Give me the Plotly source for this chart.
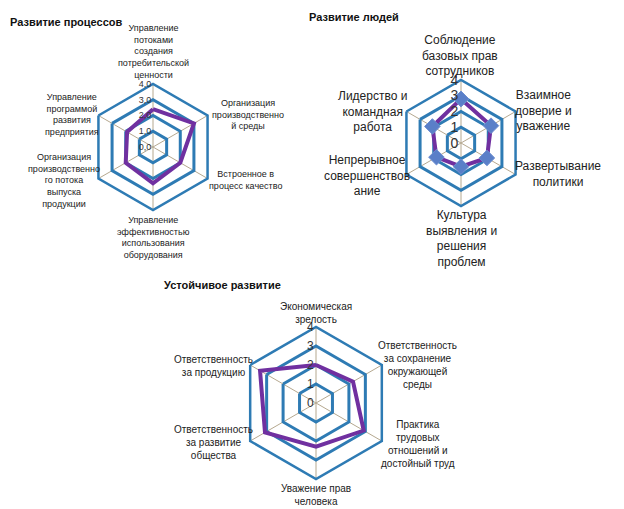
import plotly.graph_objects as go

W, H = 624, 509

proc_cats = ["Управление<br>потоками<br>создания<br>потребительской<br>ценности",
             "Организация<br>производственно<br>й среды",
             "Встроенное в<br>процесс качество",
             "Управление<br>эффективностью<br>использования<br>оборудования",
             "Организация<br>производственно<br>го потока<br>выпуска<br>продукции",
             "Управление<br>программой<br>развития<br>предприятия"]
proc_vals = [2.4, 3.0, 2.0, 2.3, 2.0, 1.9]

people_cats = ["Соблюдение<br>базовых прав<br>сотрудников",
               "Взаимное<br>доверие и<br>уважение",
               "Развертывание<br>политики",
               "Культура<br>выявления и<br>решения<br>проблем",
               "Непрерывное<br>совершенствов<br>ание",
               "Лидерство и<br>командная<br>работа"]
people_vals = [2.8, 2.2, 1.9, 1.5, 1.8, 2.1]

sust_cats = ["Экономическая<br>зрелость",
             "Ответственность<br>за сохранение<br>окружающей<br>среды",
             "Практика<br>трудовых<br>отношений и<br>достойный труд",
             "Уважение прав<br>человека",
             "Ответственность<br>за развитие<br>общества",
             "Ответственность<br>за продукцию"]
sust_vals = [2.0, 2.25, 2.9, 2.3, 3.1, 3.4]

titles = ["Развитие процессов", "Развитие людей", "Устойчивое развитие"]

BLUE = "#2E7BB4"
SPOKE = "#B5A88F"
PURPLE = "#7030A0"
FONT = "Liberation Sans, Arial, sans-serif"

fig = go.Figure()

def closed(a):
    return list(a) + [a[0]]

fig.add_trace(go.Scatterpolar(r=closed(proc_vals), theta=closed(proc_cats), mode="lines",
                              line=dict(color=PURPLE, width=4), subplot="polar", showlegend=False))
fig.add_trace(go.Scatterpolar(r=closed(people_vals), theta=closed(people_cats), mode="lines+markers",
                              line=dict(color=PURPLE, width=4),
                              marker=dict(symbol="diamond", size=12, color="#5A7FC8",
                                          line=dict(color="#6E8FD0", width=1)),
                              subplot="polar2", showlegend=False))
fig.add_trace(go.Scatterpolar(r=closed(sust_vals), theta=closed(sust_cats), mode="lines",
                              line=dict(color=PURPLE, width=4), subplot="polar3", showlegend=False))

def dom(cx, cy, r):
    return dict(x=[(cx - r) / W, (cx + r) / W], y=[(H - cy - r) / H, (H - cy + r) / H])

def polar(cx, cy, r, cats, tickfmt, tfs):
    return dict(
        domain=dom(cx, cy, r),
        bgcolor="white",
        gridshape="linear",
        radialaxis=dict(range=[0, 4], dtick=1, tick0=0, showline=False, ticks="",
                        gridcolor=BLUE, gridwidth=2.5, angle=90, side="counterclockwise",
                        tickangle=90,
                        tickformat=tickfmt, tickfont=dict(size=tfs, color="#333", family=FONT)),
        angularaxis=dict(direction="clockwise", rotation=90, categoryorder="array",
                         categoryarray=cats, showline=True, linecolor=BLUE, linewidth=2.5,
                         gridcolor=SPOKE, gridwidth=1, ticks="", showticklabels=False),
    )

fig.update_layout(
    width=W, height=H, margin=dict(l=0, r=0, t=0, b=0),
    paper_bgcolor="white", separators=", ",
    polar=polar(153, 147, 63, proc_cats, ".1f", 9),
    polar2=polar(461, 143, 63, people_cats, "d", 14),
    polar3=polar(316, 403, 76, sust_cats, "d", 12),
)

# category label positions (pixel centres) for each chart
label_pos = [
    (proc_cats, 9, [(153, 51), (248, 114), (245, 180), (153, 237), (64, 180), (72, 114)]),
    (people_cats, 12, [(460, 56), (543, 110), (558, 174), (461, 238), (367, 175), (372, 111)]),
    (sust_cats, 10, [(316, 313), (417, 365), (418, 444), (316, 495), (213, 442), (213, 366)]),
]
for cats, fs, pos in label_pos:
    for c, (x, y) in zip(cats, pos):
        fig.add_annotation(text=c, x=x / W, y=1 - y / H, xref="paper", yref="paper",
                           xanchor="center", yanchor="middle", align="center", showarrow=False,
                           font=dict(size=fs, color="#222", family=FONT))

for (t, x, y) in [(titles[0], 8, 22), (titles[1], 307, 17), (titles[2], 162, 285)]:
    fig.add_annotation(text="<b>" + t + "</b>", x=x / W, y=1 - y / H, xref="paper", yref="paper",
                       xanchor="left", yanchor="middle", showarrow=False,
                       font=dict(size=11, color="#111", family=FONT))

fig.write_html("out.html", config={"displayModeBar": False},
               post_script="document.body.style.margin='0';")
